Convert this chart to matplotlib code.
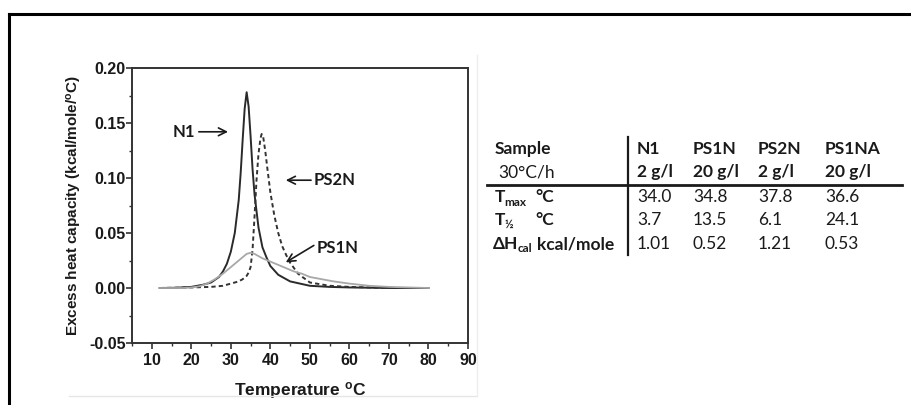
import matplotlib
matplotlib.use("Agg")
import matplotlib.pyplot as plt
from matplotlib.lines import Line2D
from matplotlib.ticker import MultipleLocator

plt.rcParams["mathtext.fontset"] = "custom"
plt.rcParams["mathtext.rm"] = "Liberation Sans:bold"
plt.rcParams["mathtext.it"] = "Liberation Sans:bold"
plt.rcParams["mathtext.bf"] = "Liberation Sans:bold"

# ---------------- data ----------------
n1_T = [12, 16, 20, 23, 25, 27, 28, 29, 30, 31, 32, 32.5, 33, 33.5, 34, 34.5, 35, 35.5,
        36, 37, 38, 39, 40, 42, 45, 50, 55, 60, 70, 80]
n1_v = [0, 0.0002, 0.001, 0.003, 0.005, 0.010, 0.015, 0.022, 0.033, 0.050, 0.080, 0.105,
        0.135, 0.163, 0.178, 0.165, 0.138, 0.108, 0.085, 0.055, 0.037, 0.028, 0.020,
        0.012, 0.006, 0.002, 0.001, 0.0005, 0, 0]

ps2n_T = [12, 20, 25, 28, 30, 32, 33, 34, 34.5, 35, 35.5, 36, 36.5, 37, 37.5, 37.8, 38.2,
          38.7, 39.2, 40, 41, 42, 43, 44, 45, 47, 50, 55, 60, 65, 70, 80]
ps2n_v = [0, 0.0005, 0.001, 0.002, 0.004, 0.006, 0.008, 0.011, 0.014, 0.019, 0.035, 0.065,
          0.098, 0.122, 0.136, 0.140, 0.137, 0.125, 0.110, 0.087, 0.066, 0.050, 0.038,
          0.030, 0.023, 0.013, 0.005, 0.002, 0.001, 0.0005, 0, 0]

ps1n_T = [12, 18, 20, 22, 24, 26, 28, 30, 31, 32, 33, 34, 35, 36, 37, 38, 40, 42, 44, 46,
          48, 50, 53, 56, 60, 65, 70, 80]
ps1n_v = [0, 0, 0.0005, 0.0015, 0.004, 0.008, 0.013, 0.019, 0.022, 0.025, 0.028, 0.031,
          0.032, 0.031, 0.029, 0.027, 0.024, 0.021, 0.018, 0.015, 0.013, 0.010, 0.008,
          0.006, 0.004, 0.002, 0.001, 0]

samples = ["N1", "PS1N", "PS2N", "PS1NA"]
concs = ["2 g/l", "20 g/l", "2 g/l", "20 g/l"]
tmax = ["34.0", "34.8", "37.8", "36.6"]
thalf = ["3.7", "13.5", "6.1", "24.1"]
dhcal = ["1.01", "0.52", "1.21", "0.53"]

# ---------------- figure ----------------
W, H = 912, 405
fig = plt.figure(figsize=(W / 100, H / 100), dpi=100)
fig.patch.set_facecolor("white")


def fx(px):
    return px / W


def fy(py):
    return 1 - py / H


# outer frame (left and top)
fig.add_artist(Line2D([fx(9.5), fx(9.5)], [fy(13.5), fy(405)], color="black", lw=2.2))
fig.add_artist(Line2D([fx(9.5), fx(912)], [fy(13.5), fy(13.5)], color="black", lw=2.2))
# faint border of the inset picture
fig.add_artist(Line2D([fx(69), fx(477)], [fy(396), fy(396)], color="#e6e6e6", lw=1))
fig.add_artist(Line2D([fx(477), fx(477)], [fy(55), fy(396)], color="#eeeeee", lw=1))

ax = fig.add_axes([fx(132), fy(343), fx(468) - fx(132), fy(68) - fy(343)])
ax.plot(n1_T, n1_v, color="#2a2a2a", lw=1.4)
ax.plot(ps2n_T, ps2n_v, color="#333333", lw=1.4, ls=(0, (2.2, 1.6)))
ax.plot(ps1n_T, ps1n_v, color="#a8a8a8", lw=1.3)

ax.set_xlim(5, 90)
ax.set_ylim(-0.05, 0.20)
ax.xaxis.set_minor_locator(MultipleLocator(5))
ax.yaxis.set_minor_locator(MultipleLocator(0.025))
ax.set_xticks(range(10, 91, 10))
ax.set_yticks([-0.05, 0.0, 0.05, 0.10, 0.15, 0.20])
ax.set_yticklabels(["-0.05", "0.00", "0.05", "0.10", "0.15", "0.20"])
for s in ax.spines.values():
    s.set_color("#333333")
    s.set_linewidth(1.4)
ax.tick_params(which="major", direction="out", length=4, width=1.2, color="#333333",
               labelsize=11.5, labelcolor="#1a1a1a")
ax.tick_params(which="minor", direction="out", length=2.5, width=1.0, color="#333333")
ax.tick_params(axis="y", pad=0.5)
ax.tick_params(axis="x", pad=3)
for lab in ax.get_xticklabels() + ax.get_yticklabels():
    lab.set_fontfamily("Liberation Sans")
    lab.set_fontweight("bold")

ax.set_xlabel("Temperature $^{\\mathrm{o}}$C", fontsize=12.5, fontweight="bold",
              fontfamily="Liberation Sans", color="#1a1a1a", labelpad=9)
ax.set_ylabel("Excess heat capacity (kcal/mole/$^{\\mathrm{o}}$C)", fontsize=11,
              fontweight="bold", fontfamily="Liberation Sans", color="#1a1a1a",
              labelpad=4)

afont = dict(fontsize=12, fontweight="bold", family=["Lato", "DejaVu Sans"], color="#1a1a1a")
arw = dict(arrowstyle="->", color="#1a1a1a", lw=1.2, mutation_scale=14)
ax.text(15.2, 0.142, "N1", va="center", ha="left", **afont)
ax.annotate("", xy=(30.0, 0.142), xytext=(21.2, 0.142), arrowprops=arw)
ax.text(51.0, 0.098, "PS2N", va="center", ha="left", **afont)
ax.annotate("", xy=(43.2, 0.098), xytext=(51.0, 0.098), arrowprops=arw)
ax.text(51.8, 0.036, "PS1N", va="center", ha="left", **afont)
ax.annotate("", xy=(43.3, 0.022), xytext=(51.6, 0.040), arrowprops=arw)

# ---------------- table ----------------
tf = ["Lato", "DejaVu Sans"]
tc = "#1a1a1a"
FS = 12.5
SUB = 8.5


def t(px, py, s, bold=False, size=FS):
    fig.text(fx(px), fy(py), s, ha="left", va="center", fontsize=size,
             fontweight="bold" if bold else "normal", family=tf, color=tc)


t(495, 149, "Sample", bold=True)
t(498, 172, "30\u00b0C/h")
col_x = [637, 693, 758, 825]
for x, s, c in zip(col_x, samples, concs):
    t(x, 149, s, bold=True)
    t(x, 172, c, bold=True)

# row labels
t(495, 197, "T", bold=True)
t(504, 202, "max", bold=True, size=SUB)
t(535, 197, "\u00b0C", bold=True)
t(495, 220, "T", bold=True)
t(505, 224, "\u00bd", bold=True, size=SUB)
t(535, 220, "\u00b0C", bold=True)
t(493, 244, "\u0394H", bold=True)
t(518, 249, "cal", bold=True, size=SUB)
t(537, 244, "kcal/mole", bold=True)

for x, a, b, c in zip(col_x, tmax, thalf, dhcal):
    t(x, 197, a)
    t(x, 220, b)
    t(x, 244, c)

fig.add_artist(Line2D([fx(487), fx(902)], [fy(185), fy(185)], color="#1a1a1a", lw=2))
fig.add_artist(Line2D([fx(628), fx(628)], [fy(137), fy(255)], color="#1a1a1a", lw=1.6))

fig.savefig("out.png", dpi=100, facecolor="white")
